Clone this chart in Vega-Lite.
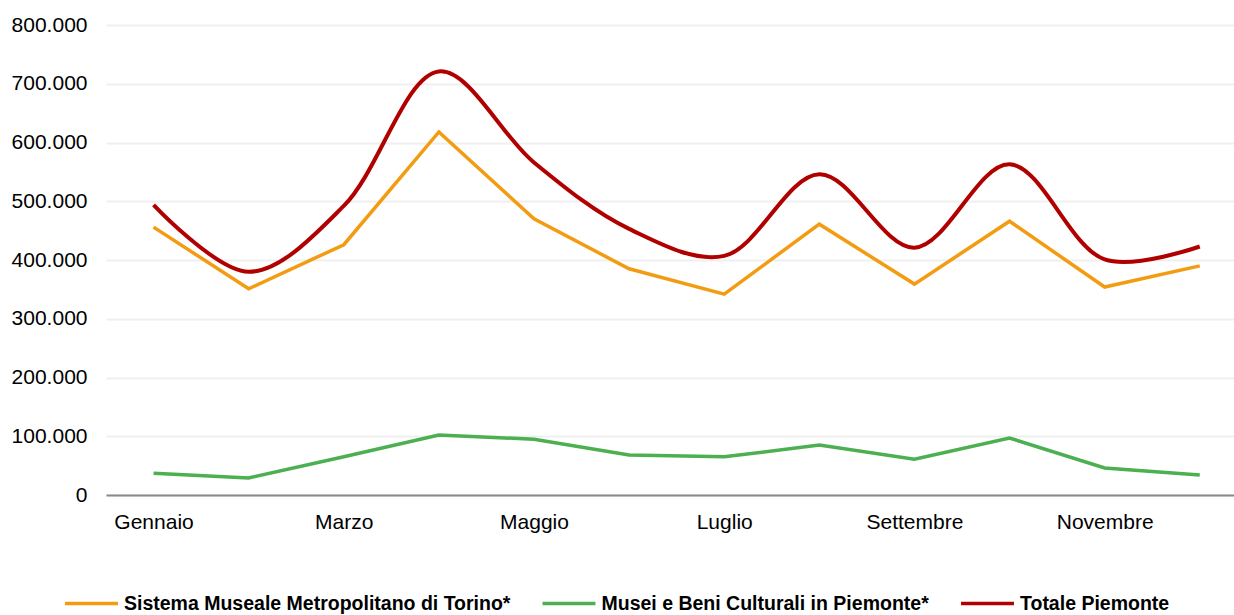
{
  "$schema": "https://vega.github.io/schema/vega-lite/v6.json",
  "autosize": {"type": "none"},
  "padding": {"left": 106, "top": 25, "right": 0, "bottom": 120},
  "width": 1128,
  "height": 470,
  "background": "white",
  "config": {
    "font": "Liberation Sans",
    "view": {"stroke": null}
  },
  "data": {
    "values": [
      {"n": 1, "mese": "Gennaio", "serie": "Sistema Museale Metropolitano di Torino*", "valore": 456000},
      {"n": 2, "mese": "Febbraio", "serie": "Sistema Museale Metropolitano di Torino*", "valore": 351000},
      {"n": 3, "mese": "Marzo", "serie": "Sistema Museale Metropolitano di Torino*", "valore": 426000},
      {"n": 4, "mese": "Aprile", "serie": "Sistema Museale Metropolitano di Torino*", "valore": 618000},
      {"n": 5, "mese": "Maggio", "serie": "Sistema Museale Metropolitano di Torino*", "valore": 470000},
      {"n": 6, "mese": "Giugno", "serie": "Sistema Museale Metropolitano di Torino*", "valore": 385000},
      {"n": 7, "mese": "Luglio", "serie": "Sistema Museale Metropolitano di Torino*", "valore": 342000},
      {"n": 8, "mese": "Agosto", "serie": "Sistema Museale Metropolitano di Torino*", "valore": 461000},
      {"n": 9, "mese": "Settembre", "serie": "Sistema Museale Metropolitano di Torino*", "valore": 359000},
      {"n": 10, "mese": "Ottobre", "serie": "Sistema Museale Metropolitano di Torino*", "valore": 466000},
      {"n": 11, "mese": "Novembre", "serie": "Sistema Museale Metropolitano di Torino*", "valore": 354000},
      {"n": 12, "mese": "Dicembre", "serie": "Sistema Museale Metropolitano di Torino*", "valore": 390000},
      {"n": 1, "mese": "Gennaio", "serie": "Musei e Beni Culturali in Piemonte*", "valore": 37000},
      {"n": 2, "mese": "Febbraio", "serie": "Musei e Beni Culturali in Piemonte*", "valore": 29000},
      {"n": 3, "mese": "Marzo", "serie": "Musei e Beni Culturali in Piemonte*", "valore": 65000},
      {"n": 4, "mese": "Aprile", "serie": "Musei e Beni Culturali in Piemonte*", "valore": 102000},
      {"n": 5, "mese": "Maggio", "serie": "Musei e Beni Culturali in Piemonte*", "valore": 95000},
      {"n": 6, "mese": "Giugno", "serie": "Musei e Beni Culturali in Piemonte*", "valore": 68000},
      {"n": 7, "mese": "Luglio", "serie": "Musei e Beni Culturali in Piemonte*", "valore": 65000},
      {"n": 8, "mese": "Agosto", "serie": "Musei e Beni Culturali in Piemonte*", "valore": 85000},
      {"n": 9, "mese": "Settembre", "serie": "Musei e Beni Culturali in Piemonte*", "valore": 61000},
      {"n": 10, "mese": "Ottobre", "serie": "Musei e Beni Culturali in Piemonte*", "valore": 97000},
      {"n": 11, "mese": "Novembre", "serie": "Musei e Beni Culturali in Piemonte*", "valore": 46000},
      {"n": 12, "mese": "Dicembre", "serie": "Musei e Beni Culturali in Piemonte*", "valore": 34000},
      {"n": 1, "mese": "Gennaio", "serie": "Totale Piemonte", "valore": 494000},
      {"n": 2, "mese": "Febbraio", "serie": "Totale Piemonte", "valore": 380000},
      {"n": 3, "mese": "Marzo", "serie": "Totale Piemonte", "valore": 492000},
      {"n": 4, "mese": "Aprile", "serie": "Totale Piemonte", "valore": 721000},
      {"n": 5, "mese": "Maggio", "serie": "Totale Piemonte", "valore": 566000},
      {"n": 6, "mese": "Giugno", "serie": "Totale Piemonte", "valore": 453000},
      {"n": 7, "mese": "Luglio", "serie": "Totale Piemonte", "valore": 407000},
      {"n": 8, "mese": "Agosto", "serie": "Totale Piemonte", "valore": 546000},
      {"n": 9, "mese": "Settembre", "serie": "Totale Piemonte", "valore": 421000},
      {"n": 10, "mese": "Ottobre", "serie": "Totale Piemonte", "valore": 563000},
      {"n": 11, "mese": "Novembre", "serie": "Totale Piemonte", "valore": 401000},
      {"n": 12, "mese": "Dicembre", "serie": "Totale Piemonte", "valore": 423000}
    ]
  },
  "encoding": {
    "x": {
      "field": "n",
      "type": "quantitative",
      "scale": {"domain": [0.5, 12.36], "nice": false, "zero": false},
      "axis": {
        "title": null,
        "values": [1, 3, 5, 7, 9, 11],
        "labelExpr": "['Gennaio','Febbraio','Marzo','Aprile','Maggio','Giugno','Luglio','Agosto','Settembre','Ottobre','Novembre','Dicembre'][datum.value - 1]",
        "grid": false,
        "ticks": false,
        "domainColor": "#898989",
        "domainWidth": 2,
        "labelFont": "Liberation Sans",
        "labelFontSize": 21,
        "labelColor": "#000000",
        "labelPadding": 16
      }
    },
    "y": {
      "field": "valore",
      "type": "quantitative",
      "scale": {"domain": [0, 800000], "nice": false},
      "axis": {
        "title": null,
        "values": [0, 100000, 200000, 300000, 400000, 500000, 600000, 700000, 800000],
        "labelExpr": "replace(format(datum.value, ','), ',', '.')",
        "domain": false,
        "ticks": false,
        "grid": true,
        "gridColor": "#EFEFEF",
        "gridWidth": 2,
        "labelFont": "Liberation Sans",
        "labelFontSize": 21,
        "labelColor": "#000000",
        "labelPadding": 19
      }
    },
    "color": {
      "field": "serie",
      "type": "nominal",
      "scale": {
        "domain": ["Sistema Museale Metropolitano di Torino*", "Musei e Beni Culturali in Piemonte*", "Totale Piemonte"],
        "range": ["#F39C12", "#4CAF50", "#B00000"]
      },
      "legend": {
        "title": null,
        "orient": "none",
        "direction": "horizontal",
        "legendX": -43,
        "legendY": 550,
        "symbolType": "stroke",
        "symbolSize": 2800,
        "symbolStrokeWidth": 3.5,
        "labelFont": "Liberation Sans",
        "labelFontWeight": "bold",
        "labelFontSize": 19.5,
        "labelColor": "#000000",
        "labelOffset": 4,
        "columnPadding": 24.5,
        "labelLimit": 0
      }
    }
  },
  "layer": [
    {
      "transform": [{"filter": "datum.serie !== 'Totale Piemonte'"}],
      "mark": {"type": "line", "strokeWidth": 3.5, "interpolate": "linear"}
    },
    {
      "transform": [{"filter": "datum.serie === 'Totale Piemonte'"}],
      "mark": {"type": "line", "strokeWidth": 4, "interpolate": "catmull-rom"}
    }
  ]
}
